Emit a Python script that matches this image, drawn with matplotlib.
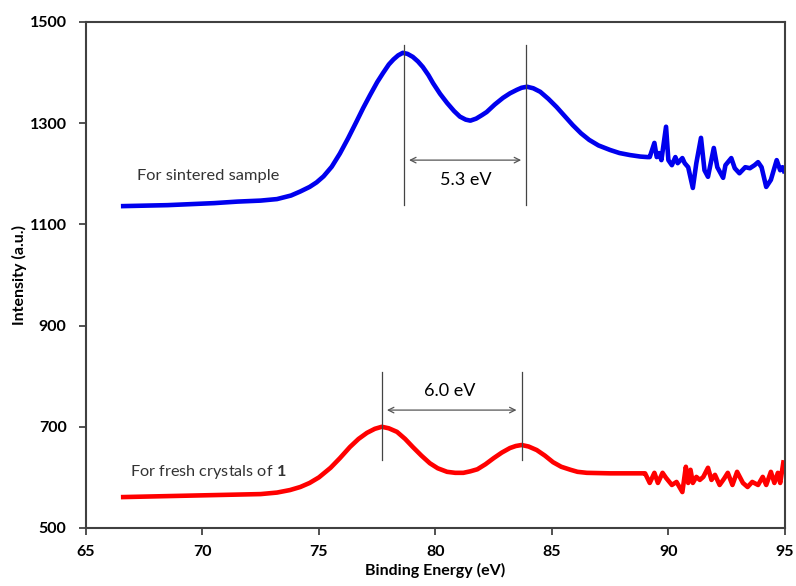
import matplotlib
matplotlib.use("Agg")
import matplotlib.pyplot as plt

# Sintered sample (blue)
blue_x = [66.5, 67.5, 68.5, 69.5, 70.5, 71.5, 72.5, 73.2, 73.8, 74.2, 74.6, 74.9, 75.2, 75.55, 75.9,
          76.25, 76.6, 76.9, 77.2, 77.5, 77.75, 78.0, 78.2, 78.4, 78.6, 78.8, 79.03, 79.25, 79.46,
          79.7, 79.9, 80.2, 80.5, 80.8, 81.05, 81.3, 81.5, 81.75, 82.0, 82.2, 82.55, 82.9, 83.2,
          83.5, 83.7, 83.93, 84.2, 84.5, 84.85, 85.2, 85.55, 85.9, 86.25, 86.6, 87.0, 87.5, 87.9,
          88.35, 88.8, 89.1,
          89.2, 89.4, 89.5, 89.6, 89.7, 89.9, 90.0, 90.15, 90.3, 90.4, 90.6, 90.7, 90.85, 91.05,
          91.2, 91.4, 91.55, 91.7, 91.95, 92.1, 92.35, 92.45, 92.7, 92.85, 93.05, 93.3, 93.5,
          93.7, 93.85, 94.0, 94.2, 94.4, 94.65, 94.8, 94.9, 95.0]
blue_y = [1136, 1137, 1138, 1140, 1142, 1145, 1147, 1150, 1157, 1165, 1174, 1183, 1195, 1214, 1240,
          1270, 1302, 1330, 1356, 1381, 1399, 1416, 1426, 1434, 1439, 1437, 1431, 1422, 1411,
          1395, 1379, 1358, 1340, 1324, 1313, 1307, 1305, 1309, 1316, 1322, 1337, 1350, 1359,
          1366, 1370, 1372, 1369, 1362, 1348, 1332, 1314, 1296, 1280, 1267, 1256, 1247, 1241,
          1237, 1234, 1233,
          1233, 1261, 1233, 1241, 1227, 1293, 1227, 1217, 1233, 1221, 1231, 1221, 1213, 1172,
          1221, 1271, 1207, 1194, 1251, 1213, 1192, 1217, 1231, 1211, 1201, 1213, 1211,
          1217, 1223, 1213, 1174, 1188, 1227, 1207, 1213, 1201]

# Fresh crystals (red)
red_x = [66.5, 67.5, 68.5, 69.5, 70.5, 71.5, 72.5, 73.2, 73.76, 74.2, 74.6, 75.0, 75.5, 75.9, 76.33,
         76.7, 77.06, 77.4, 77.7, 78.0, 78.35, 78.7, 79.03, 79.4, 79.76, 80.1, 80.5, 80.85, 81.2,
         81.5, 81.8, 82.15, 82.5, 82.85, 83.2, 83.45, 83.7, 84.0, 84.35, 84.7, 85.05, 85.4, 85.8,
         86.1, 86.5, 87.5, 88.9,
         89.0, 89.2, 89.4, 89.55, 89.75, 89.9, 90.15, 90.35, 90.6, 90.75, 90.85, 90.95, 91.05, 91.2,
         91.35, 91.5, 91.7, 91.85, 92.0, 92.2, 92.4, 92.55, 92.75, 92.95, 93.2, 93.4, 93.6, 93.85,
         94.05, 94.2, 94.4, 94.55, 94.7, 94.8, 94.95]
red_y = [561, 562, 563, 564, 565, 566, 567, 570, 575, 581, 589, 600, 619, 638, 660,
         676, 688, 696, 700, 697, 690, 676, 660, 643, 628, 618, 611, 609, 609,
         612, 616, 626, 638, 649, 658, 662, 664, 661, 654, 643, 630, 621, 615,
         611, 609, 608, 608,
         608, 589, 609, 589, 609, 599, 585, 591, 571, 621, 589, 615, 589, 601,
         595, 601, 619, 595, 605, 585, 598, 609, 585, 611, 589, 581, 591, 585,
         601, 585, 611, 589, 609, 589, 634]

x_ticks = [65, 70, 75, 80, 85, 90, 95]
y_ticks = [500, 700, 900, 1100, 1300, 1500]

plt.rcParams['font.family'] = ['Lato', 'DejaVu Sans']
plt.rcParams['mathtext.fontset'] = 'custom'
plt.rcParams['mathtext.rm'] = 'Lato'
plt.rcParams['mathtext.bf'] = 'Lato:bold'

fig = plt.figure(figsize=(7.96, 5.86), dpi=100)
ax = fig.add_axes([0.108, 0.099, 0.878, 0.8635])

ax.plot(blue_x, blue_y, color='#0000EE', lw=3.3, solid_joinstyle='round', solid_capstyle='butt')
ax.plot(red_x, red_y, color='#FF0000', lw=3.3, solid_joinstyle='round', solid_capstyle='butt')

ax.set_xlim(65, 95)
ax.set_ylim(500, 1500)
ax.set_xticks(x_ticks)
ax.set_yticks(y_ticks)
ax.tick_params(direction='out', length=5, width=1.2, colors='#333333', labelsize=11.5)
ax.tick_params(axis='y', pad=9)
ax.tick_params(axis='x', pad=7)
for lab in ax.get_xticklabels() + ax.get_yticklabels():
    lab.set_fontweight('bold')
    lab.set_color('black')
for s in ax.spines.values():
    s.set_linewidth(1.5)
    s.set_color('#404040')

ax.set_xlabel('Binding Energy (eV)', fontsize=11.5, fontweight='bold', labelpad=3)
ax.set_ylabel('Intensity (a.u.)', fontsize=11.5, fontweight='bold', labelpad=2)

# Annotations: sintered sample
lc = '#444444'
ax.plot([78.65, 78.65], [1138, 1455], color=lc, lw=0.9)
ax.plot([83.9, 83.9], [1138, 1455], color=lc, lw=0.9)
ax.annotate('', xy=(78.75, 1227), xytext=(83.8, 1227),
            arrowprops=dict(arrowstyle='<->', color='#555555', lw=0.9))
ax.text(81.3, 1188, '5.3 eV', ha='center', va='center', fontsize=13)
ax.text(67.2, 1196, 'For sintered sample', ha='left', va='center', fontsize=11.8, color='#333333')

# Annotations: fresh crystals
ax.plot([77.7, 77.7], [634, 808], color=lc, lw=0.9)
ax.plot([83.7, 83.7], [634, 808], color=lc, lw=0.9)
ax.annotate('', xy=(77.8, 733), xytext=(83.6, 733),
            arrowprops=dict(arrowstyle='<->', color='#555555', lw=0.9))
ax.text(80.6, 770, '6.0 eV', ha='center', va='center', fontsize=13)
ax.text(66.9, 610, 'For fresh crystals of $\\mathbf{1}$', ha='left', va='center', fontsize=11.7, color='#333333')

fig.savefig('out.png', dpi=100)
